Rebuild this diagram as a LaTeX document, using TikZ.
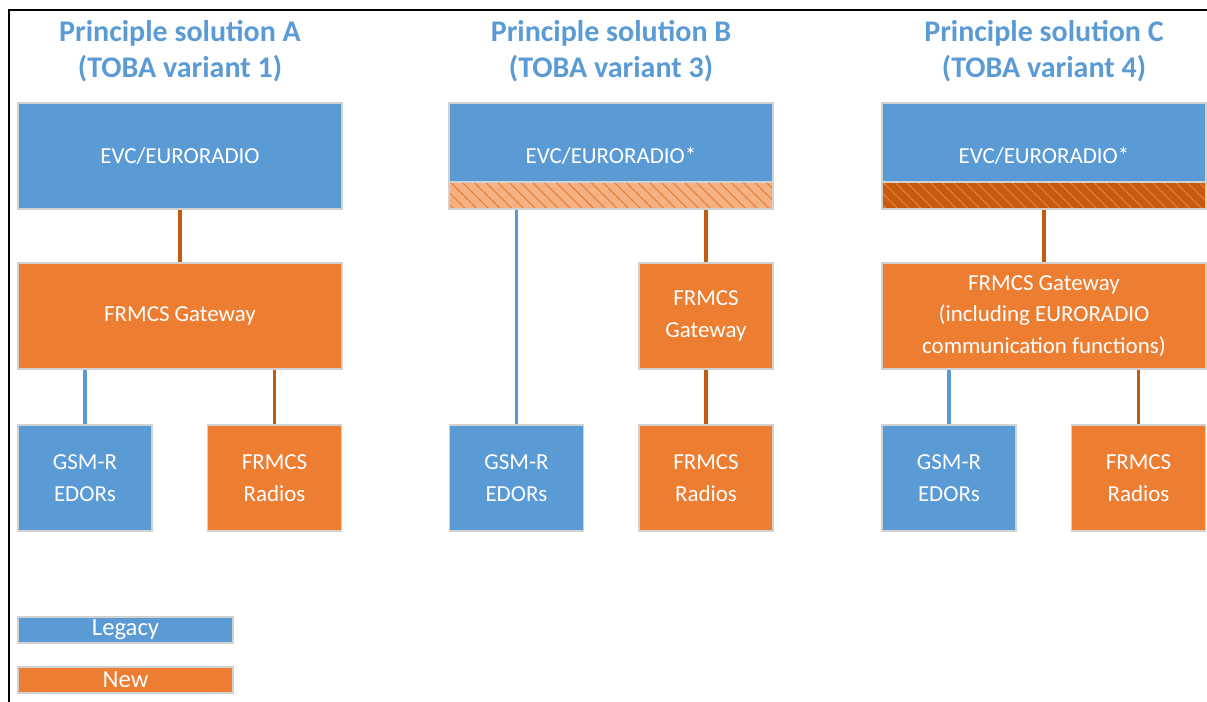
\documentclass[tikz,border=0pt]{standalone}
\usepackage{fontspec}
\setmainfont{Carlito}
\usetikzlibrary{patterns.meta}
\definecolor{lblue}{HTML}{5B9BD5}
\definecolor{lorange}{HTML}{ED7D31}
\definecolor{dorange}{HTML}{C55A11}
\definecolor{porange}{HTML}{F4B183}
\tikzset{
 box/.style={draw=black!18, line width=0.8pt, text=white, align=center, font=\fontsize{17.2}{23.5}\selectfont, inner sep=0pt},
 big/.style={box, minimum width=243pt, minimum height=79.5pt},
 small/.style={box, minimum width=100.5pt, minimum height=79.5pt},
 legacy/.style={fill=lblue},
 new/.style={fill=lorange},
 band/.style={draw=black!18, line width=0.8pt, minimum width=243pt, minimum height=20.25pt, inner sep=0pt, anchor=south, pattern={Lines[angle=-45,distance=6.2pt,line width=0.8pt]}, pattern color=lorange},
 hatchlight/.style={band, preaction={fill=porange}},
 hatchdark/.style={band, preaction={fill=dorange}},
 ttl/.style={text=lblue, font=\fontsize{22.5}{27}\selectfont\bfseries, align=center},
 leg/.style={draw=black!18, line width=0.8pt, text=white, font=\fontsize{18.5}{20}\selectfont, minimum width=161.25pt, minimum height=19.5pt, inner sep=0pt},
 bline/.style={draw=lblue, line width=2.4pt},
 oline/.style={draw=dorange, line width=2.4pt},
 frame/.style={draw=black, line width=1.5pt}
}
\begin{document}
\begin{tikzpicture}[x=0.75pt,y=-0.75pt]
\useasboundingbox (0,0) rectangle (1207,702);
\draw[frame] (8,10) -- (1207,10);
\draw[frame] (9,10) -- (9,702);
% titles
\node[ttl] (ta) at (180,51) {Principle solution A\\(TOBA variant 1)};
\node[ttl] (tb) at (611,51) {Principle solution B\\(TOBA variant 3)};
\node[ttl] (tc) at (1044,51) {Principle solution C\\(TOBA variant 4)};
% column A
\node[big,legacy] (Aevc) at (180,156) {EVC/EURORADIO};
\node[big,new] (Agw) at (180,316) {FRMCS Gateway};
\node[small,legacy] (Agsm) at (85,478) {GSM-R\\EDORs};
\node[small,new] (Arad) at (274.5,478) {FRMCS\\Radios};
\draw[oline] (Aevc.south) -- (Agw.north);
\draw[bline] (Agsm.north |- Agw.south) -- (Agsm.north);
\draw[oline] (Arad.north |- Agw.south) -- (Arad.north);
% column B
\node[big,legacy] (Bevc) at (611,156) {EVC/EURORADIO*};
\node[hatchlight] (Bh) at (Bevc.south) {};
\node[small,new] (Bgw) at (706,316) {FRMCS\\Gateway};
\node[small,legacy] (Bgsm) at (516.5,478) {GSM-R\\EDORs};
\node[small,new] (Brad) at (706,478) {FRMCS\\Radios};
\draw[bline] (Bgsm.north |- Bh.south) -- (Bgsm.north);
\draw[oline] (Bgw.north |- Bh.south) -- (Bgw.north);
\draw[oline] (Bgw.south) -- (Brad.north);
% column C
\node[big,legacy] (Cevc) at (1044,156) {EVC/EURORADIO*};
\node[hatchdark] (Ch) at (Cevc.south) {};
\node[big,new] (Cgw) at (1044,316) {FRMCS Gateway\\(including EURORADIO\\communication functions)};
\node[small,legacy] (Cgsm) at (949,478) {GSM-R\\EDORs};
\node[small,new] (Crad) at (1138.5,478) {FRMCS\\Radios};
\draw[oline] (Ch.south) -- (Cgw.north);
\draw[bline] (Cgsm.north |- Cgw.south) -- (Cgsm.north);
\draw[oline] (Crad.north |- Cgw.south) -- (Crad.north);
% legend
\node[leg,legacy] (lg1) at (125.5,630) {Legacy};
\node[leg,new] (lg2) at (125.5,680) {New};
\end{tikzpicture}
\end{document}
